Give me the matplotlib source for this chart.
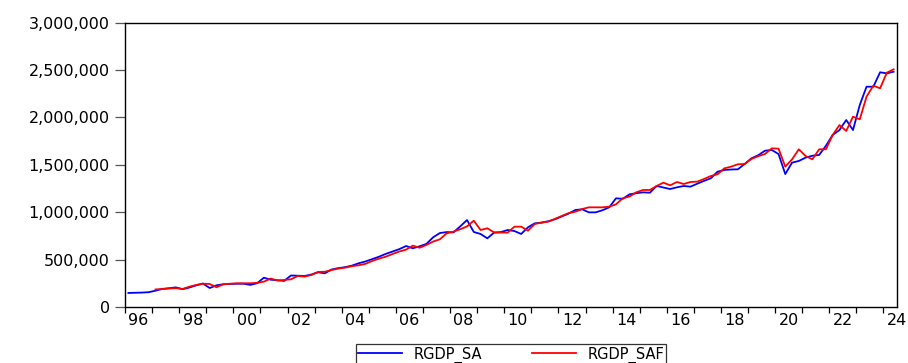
import numpy as np
import matplotlib
matplotlib.use("Agg")
import matplotlib.pyplot as plt
from matplotlib.ticker import FuncFormatter

plt.rcParams["font.family"] = ["DejaVu Sans"]

FIRST_YEAR = 1996
LAST_YEAR = 2024

# Real GDP, seasonally adjusted, quarterly from 1996Q1 to 2024Q2 (thousands)
rgdp_sa = [
    148, 150, 152, 156,
    172, 190, 198, 207,
    188, 205, 228, 248,
    200, 228, 240, 243,
    245, 245, 233, 250,
    309, 288, 282, 275,
    332, 330, 327, 342,
    366, 355, 395, 410,
    420, 436, 461, 480,
    505, 530, 560, 585,
    610, 643, 619, 640,
    665, 735, 780, 790,
    787, 850, 917, 791,
    770, 724, 784, 790,
    812, 801, 770, 840,
    882, 890, 904, 925,
    955, 985, 1023, 1030,
    998, 998, 1020, 1051,
    1146, 1141, 1188, 1200,
    1209, 1205, 1276, 1260,
    1244, 1262, 1276, 1269,
    1300, 1330, 1357, 1427,
    1445, 1450, 1452, 1508,
    1568, 1600, 1648, 1656,
    1613, 1402, 1522, 1540,
    1575, 1595, 1603, 1700,
    1814, 1866, 1972, 1866,
    2130, 2323, 2323, 2475,
    2464, 2481,
]

# Fitted series, available from 1997Q1 (thousands)
rgdp_saf = [
    185, 190, 195, 198,
    190, 214, 232, 245,
    243, 208, 239, 245,
    250, 250, 250, 255,
    267, 300, 280, 285,
    292, 327, 320, 337,
    369, 372, 390, 405,
    415, 430, 440, 455,
    485, 510, 530, 559,
    585, 605, 647, 625,
    654, 690, 714, 777,
    794, 820, 850, 910,
    812, 830, 787, 785,
    784, 847, 847, 805,
    875, 890, 900, 930,
    960, 990, 1005, 1033,
    1051, 1051, 1051, 1058,
    1083, 1146, 1165, 1209,
    1234, 1234, 1276, 1311,
    1283, 1318, 1297, 1318,
    1322, 1350, 1381, 1400,
    1462, 1480, 1505, 1508,
    1561, 1590, 1613, 1673,
    1670, 1480, 1557, 1663,
    1592, 1557, 1663, 1663,
    1814, 1919, 1856, 2007,
    1979, 2218, 2334, 2306,
    2471, 2506,
]

y_ticks = [0, 500_000, 1_000_000, 1_500_000, 2_000_000, 2_500_000, 3_000_000]


def quarter_positions(n: int) -> np.ndarray:
    # each observation sits in the middle of its quarter
    return FIRST_YEAR + 0.125 + 0.25 * np.arange(n)


def main() -> None:
    sa = np.array(rgdp_sa, dtype=float) * 1000
    saf = np.array(rgdp_saf, dtype=float) * 1000
    saf = np.concatenate([np.full(len(sa) - len(saf), np.nan), saf])
    x = quarter_positions(len(sa))

    fig = plt.figure(figsize=(9.08, 3.63), dpi=100)
    ax = fig.add_axes([0.1377, 0.1543, 0.8502, 0.7837])

    ax.plot(x, sa, color="#0000ff", linewidth=1.3, label="RGDP_SA")
    ax.plot(x, saf, color="#ff0000", linewidth=1.3, label="RGDP_SAF")

    ax.set_xlim(FIRST_YEAR, LAST_YEAR + 0.5)
    ax.set_ylim(0, 3_000_000)

    # year ticks without labels, two-year labels centred inside the year
    ax.set_xticks(np.arange(FIRST_YEAR, LAST_YEAR + 1))
    ax.set_xticklabels([])
    label_years = np.arange(FIRST_YEAR, LAST_YEAR + 1, 2)
    ax.set_xticks(label_years + 0.5, minor=True)
    ax.set_xticklabels([f"{y % 100:02d}" for y in label_years], minor=True)
    ax.tick_params(axis="x", which="major", direction="out", length=4.5,
                   width=0.9, color="black")
    ax.tick_params(axis="x", which="minor", length=0, pad=4.5,
                   labelsize=11.5, labelcolor="black")

    ax.set_yticks(y_ticks)
    ax.yaxis.set_major_formatter(FuncFormatter(lambda v, _: f"{v:,.0f}"))
    ax.tick_params(axis="y", direction="out", length=7, width=0.9,
                   color="#555555", pad=4, labelsize=11.5, labelcolor="black")

    for spine in ax.spines.values():
        spine.set_color("black")
        spine.set_linewidth(1.0)

    legend = fig.legend(
        loc="upper center",
        bbox_to_anchor=(0.563, 0.052),
        ncol=2,
        frameon=True,
        fancybox=False,
        fontsize=10.5,
        handlelength=3.0,
        handletextpad=0.8,
        columnspacing=3.4,
        borderpad=0.15,
        borderaxespad=0,
    )
    legend.get_frame().set_edgecolor("black")
    legend.get_frame().set_linewidth(0.9)

    fig.savefig("out.png", dpi=100)
    plt.close(fig)


if __name__ == "__main__":
    main()
